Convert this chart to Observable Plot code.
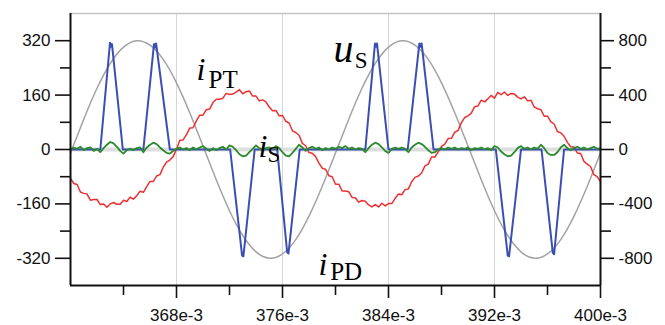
<!DOCTYPE html>
<html>
<head>
<meta charset="utf-8">
<script src="https://cdn.jsdelivr.net/npm/d3@7"></script>
<script src="https://cdn.jsdelivr.net/npm/@observablehq/plot@0.6"></script>
<style>
  html, body { margin: 0; padding: 0; background: #fff; }
</style>
</head>
<body>
<div id="chart"></div>
<script>
// ---- Data (time in ms, i.e. units of e-3 s) ----
// Fine-sampled series (every 0.25 ms from 360 to 400)
const iPT = [
  -85,-100,-103,-125,-129,-131,-149,-147,-147,-162,-160,-170,-160,-156,-161,-161,-149,
  -153,-140,-146,-136,-123,-126,-109,-94,-94,-78,-74,-52,-37,-31,-21,1,
  27,28,44,63,64,84,101,101,117,119,138,148,148,151,165,162,
  163,169,176,164,170,172,157,157,143,146,140,125,114,115,99,100,
  83,78,55,50,42,18,11,-9,-11,-21,-40,-55,-58,-77,-80,-102,
  -102,-122,-122,-124,-141,-142,-155,-150,-152,-163,-169,-162,-169,-158,-166,-159,
  -159,-144,-131,-133,-118,-116,-95,-82,-78,-69,-48,-43,-22,-22,-7,9,
  16,32,33,51,56,79,94,99,107,126,128,145,140,149,159,151,
  168,161,169,159,165,163,154,149,155,143,145,125,120,117,98,98,
  82,75,53,49,39,21,8,7,-10,-12,-35,-43,-50,-74,-80,-95
];
const iS = [
  0,6,2,8,-2,4,6,-4,2,-8,4,14,22,18,8,-4,
  -12,-2,2,-2,4,6,-8,6,14,20,16,6,-2,-10,-12,-4,
  2,6,0,4,-2,6,0,6,10,2,-4,4,-2,4,8,0,
  12,8,-2,-14,-20,-18,-8,2,12,4,-2,4,6,0,10,4,
  -8,-18,-20,-10,2,14,6,-4,4,8,2,6,-2,4,0,6,
  2,8,4,10,2,6,0,4,2,-8,4,14,20,16,6,-4,
  -10,2,6,2,6,2,-8,6,14,20,16,8,-2,-10,-8,0,
  4,0,6,2,6,0,4,2,6,-2,4,2,6,0,4,-2,
  10,6,-6,-14,-20,-18,-8,4,10,2,6,0,6,2,14,4,
  -10,-16,-16,-8,6,14,4,-2,4,8,2,6,0,4,8,2,
  4
];
// Source voltage, sampled every 1 ms (360..400)
const uS = [
  -10,89,180,253,301,320,307,265,196,108,
  10,-89,-180,-253,-301,-320,-307,-265,-196,-108,
  -10,89,180,253,301,320,307,265,196,108,
  10,-89,-180,-253,-301,-320,-307,-265,-196,-108,
  -10
];
// Pulsed current: breakpoints (time, value)
const iPDtime = [
  360, 362.25, 362.98, 363.05, 363.13, 363.95,
  365.5, 366.3, 366.38, 366.46, 367.5,
  372.05, 372.95, 373.05, 373.9,
  375.6, 376.35, 376.45, 377.3,
  382.25, 382.98, 383.05, 383.13, 384.0,
  385.45, 386.33, 386.41, 386.5, 387.4,
  392.1, 393.0, 393.1, 394.0,
  395.55, 396.4, 396.5, 397.25,
  400
];
const iPDvalue = [
  0, 0, 314, 302, 310, 0,
  0, 310, 300, 312, 0,
  0, -312, -314, 0,
  0, -302, -306, 0,
  0, 312, 302, 312, 0,
  0, 312, 302, 312, 0,
  0, -312, -314, 0,
  0, -304, -308, 0,
  0
];

// Axis tick values
const xMajorTicks = [368, 376, 384, 392, 400];
const xMinorTicks = [364, 372, 380, 388, 396];
const xGridTicks = [368, 376, 384, 392];
const leftTickLabels = [-320, -160, 0, 160, 320];
const leftMinorTicks = [-240, -80, 80, 240];
const rightTickLabels = [-800, -400, 0, 400, 800];
const rightMinorTicks = [-600, -200, 200, 600];
const rightScale = 2.5; // right axis value = left axis value * 2.5

// Series labels (anchor in data coordinates)
const labelMain = [
  {text: "i", t: 369.51, v: 203},
  {text: "u", t: 379.85, v: 256},
  {text: "i", t: 374.19, v: -23},
  {text: "i", t: 378.72, v: -370}
];
const labelSub = [
  {text: "PT", t: 370.42, v: 182},
  {text: "S", t: 381.45, v: 240},
  {text: "S", t: 374.87, v: -38},
  {text: "PD", t: 379.6, v: -385}
];
const mainSizes = [32, 40, 32, 32];
const subSizes = [25, 23, 23, 25];

// ---- Build tables ----
const tFine = d3.range(iPT.length).map(i => 360 + i * 0.25);
const redData = tFine.map((t, i) => ({t, v: iPT[i]}));
const greenData = tFine.map((t, i) => ({t, v: iS[i]}));
const grayData = uS.map((v, i) => ({t: 360 + i, v}));
const blueData = iPDtime.map((t, i) => ({t, v: iPDvalue[i]}));

const fmt = d => String(d);
const serif = "'Liberation Serif', 'Times New Roman', serif";

const chart = Plot.plot({
  width: 665,
  height: 325,
  marginLeft: 70,
  marginRight: 65,
  marginTop: 13,
  marginBottom: 40,
  style: {fontFamily: "'Liberation Sans', Arial, sans-serif", fontSize: "17px", color: "#111", background: "#fff"},
  x: {domain: [360, 400], label: null},
  y: {domain: [-400, 400], label: null},
  marks: [
    Plot.ruleX(xGridTicks, {stroke: "#d6d6d6", strokeWidth: 1}),
    Plot.ruleY([0], {stroke: "#dedede", strokeWidth: 4}),
    Plot.line(grayData, {x: "t", y: "v", stroke: "#a3a3a3", strokeWidth: 1.5, curve: "natural"}),
    Plot.line(redData, {x: "t", y: "v", stroke: "#f03030", strokeWidth: 1.5}),
    Plot.line(blueData, {x: "t", y: "v", stroke: "#3a4fb3", strokeWidth: 2}),
    Plot.line(greenData, {x: "t", y: "v", stroke: "#2b8a2b", strokeWidth: 1.8}),
    // frame
    Plot.ruleY([400], {stroke: "#c4c4c4", strokeWidth: 1.5}),
    Plot.ruleY([-400], {stroke: "#111", strokeWidth: 2}),
    Plot.ruleX([360, 400], {stroke: "#111", strokeWidth: 2}),
    // axes
    Plot.axisX(xMajorTicks, {anchor: "bottom", tickSize: 13, tickPadding: 10, strokeWidth: 1.6, tickFormat: d => `${d}e-3`, fontSize: 17}),
    Plot.axisX(xMinorTicks, {anchor: "bottom", tickSize: 10, strokeWidth: 1.6, tickFormat: () => ""}),
    Plot.axisY(leftTickLabels, {anchor: "left", tickSize: 15, tickPadding: 5, strokeWidth: 1.6, tickFormat: fmt, fontSize: 17}),
    Plot.axisY(leftMinorTicks, {anchor: "left", tickSize: 10, strokeWidth: 1.6, tickFormat: () => ""}),
    Plot.axisY(rightTickLabels.map(v => v / rightScale), {anchor: "right", tickSize: 13, tickPadding: 5, strokeWidth: 1.6, tickFormat: d => String(Math.round(d * rightScale)), fontSize: 17}),
    Plot.axisY(rightMinorTicks.map(v => v / rightScale), {anchor: "right", tickSize: 10, strokeWidth: 1.6, tickFormat: () => ""}),
    // labels
    Plot.text(labelMain, {x: "t", y: "v", text: "text", textAnchor: "start", lineAnchor: "bottom",
      fontFamily: serif, fontStyle: "italic", fontSize: (d, i) => mainSizes[i], fill: "#000"}),
    Plot.text(labelSub, {x: "t", y: "v", text: "text", textAnchor: "start", lineAnchor: "bottom",
      fontFamily: serif, fontSize: (d, i) => subSizes[i], fill: "#000"})
  ]
});
document.getElementById("chart").appendChild(chart);
</script>
</body>
</html>
